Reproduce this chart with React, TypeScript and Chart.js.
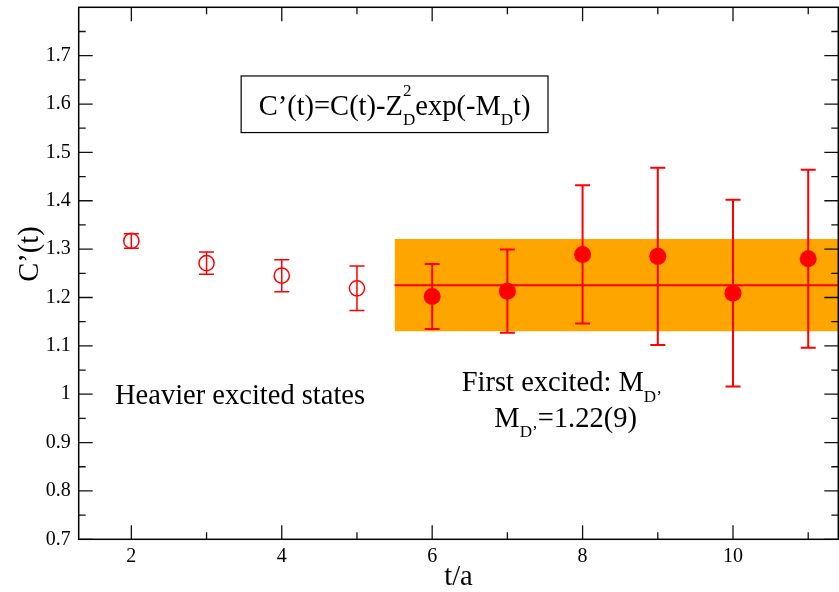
import React, { useEffect, useRef } from "react";
import { Chart, registerables } from "chart.js";

Chart.register(...registerables);

const CANVAS_W = 839;
const CANVAS_H = 592;
const SERIF = '"Liberation Serif", "Times New Roman", "DejaVu Serif", serif';
const RED = "#ff0000";
const ORANGE = "#ffa500";

// ---- data ----
const tOpen = [2, 3, 4, 5];
const cOpen = [1.317, 1.271, 1.245, 1.219];
const errOpen = [0.015, 0.023, 0.033, 0.046];

const tFilled = [6, 7, 8, 9, 10, 11];
const cFilled = [1.202, 1.213, 1.289, 1.285, 1.209, 1.28];
const errFilled = [0.067, 0.086, 0.143, 0.183, 0.193, 0.184];

const fitValue = 1.2255;
const fitError = 0.0955;
const fitFrom = 5.5;
const fitTo = 11.4;

// ---- axes ----
const xMin = 1.3;
const xMax = 11.4;
const yMin = 0.7;
const yMax = 1.8;
const xMajorTicks = [2, 4, 6, 8, 10];
const xMinorTicks = [3, 5, 7, 9, 11];
const yMajorTicks = [0.7, 0.8, 0.9, 1.0, 1.1, 1.2, 1.3, 1.4, 1.5, 1.6, 1.7];
const yMinorTicks = [0.75, 0.85, 0.95, 1.05, 1.15, 1.25, 1.35, 1.45, 1.55, 1.65, 1.75];
const xTitle = "t/a";
const yTitle = "C\u2019(t)";

// ---- annotations (data units) ----
type Seg = { t?: string; sub?: string; sup?: string };
const formulaSegments: Seg[] = [
  { t: "C\u2019(t)=C(t)-Z", sub: "D", sup: "2" },
  { t: "exp(-M", sub: "D" },
  { t: "t)" },
];
const formulaBox = { x0: 3.46, x1: 7.54, yTop: 1.658, yBottom: 1.541, yBase: 1.578 };
const heavierSegments: Seg[] = [{ t: "Heavier excited states" }];
const heavierPos = { x: 1.783, y: 0.979 };
const firstSegments: Seg[] = [{ t: "First excited: M", sub: "D\u2019" }];
const firstPos = { x: 6.393, y: 1.007 };
const massSegments: Seg[] = [{ t: "M", sub: "D\u2019" }, { t: "=1.22(9)" }];
const massPos = { x: 6.827, y: 0.933 };
const yTitleCenterValue = 1.29;

const TICK_FONT = 20;
const TEXT_FONT = 28.5;

function richWidth(ctx: CanvasRenderingContext2D, segs: Seg[], size: number) {
  const small = size * 0.6;
  let w = 0;
  for (const s of segs) {
    if (s.t) {
      ctx.font = `${size}px ${SERIF}`;
      w += ctx.measureText(s.t).width;
    }
    let sw = 0;
    ctx.font = `${small}px ${SERIF}`;
    if (s.sub) sw = Math.max(sw, ctx.measureText(s.sub).width);
    if (s.sup) sw = Math.max(sw, ctx.measureText(s.sup).width);
    w += sw;
  }
  return w;
}

function drawRich(ctx: CanvasRenderingContext2D, segs: Seg[], x: number, y: number, size: number) {
  const small = size * 0.6;
  let cx = x;
  ctx.textAlign = "left";
  ctx.textBaseline = "alphabetic";
  for (const s of segs) {
    if (s.t) {
      ctx.font = `${size}px ${SERIF}`;
      ctx.fillText(s.t, cx, y);
      cx += ctx.measureText(s.t).width;
    }
    let sw = 0;
    ctx.font = `${small}px ${SERIF}`;
    if (s.sub) {
      ctx.fillText(s.sub, cx, y + size * 0.38);
      sw = Math.max(sw, ctx.measureText(s.sub).width);
    }
    if (s.sup) {
      ctx.fillText(s.sup, cx, y - size * 0.66);
      sw = Math.max(sw, ctx.measureText(s.sup).width);
    }
    cx += sw;
  }
}

const errorBarPlugin = {
  id: "errorBars",
  beforeDatasetDraw(chart: any, args: any) {
    const ds = chart.data.datasets[args.index];
    if (!ds.errors) return;
    const { ctx, scales } = chart;
    const x = scales.x;
    const y = scales.y;
    ctx.save();
    ctx.strokeStyle = RED;
    ctx.lineWidth = ds.errorWidth;
    ds.data.forEach((p: any, i: number) => {
      const px = x.getPixelForValue(p.x);
      const pHi = y.getPixelForValue(p.y + ds.errors[i]);
      const pLo = y.getPixelForValue(p.y - ds.errors[i]);
      const cap = 7.5;
      ctx.beginPath();
      ctx.moveTo(px, pHi);
      ctx.lineTo(px, pLo);
      ctx.moveTo(px - cap, pHi);
      ctx.lineTo(px + cap, pHi);
      ctx.moveTo(px - cap, pLo);
      ctx.lineTo(px + cap, pLo);
      ctx.stroke();
    });
    ctx.restore();
  },
};

const framePlugin = {
  id: "frameAndText",
  afterDatasetsDraw(chart: any) {
    const { ctx, chartArea: a, scales } = chart;
    const x = scales.x;
    const y = scales.y;
    ctx.save();
    // ticks on all four sides, pointing inwards
    ctx.strokeStyle = "#111";
    ctx.lineWidth = 1.3;
    ctx.beginPath();
    const xt = (v: number, len: number) => {
      const px = x.getPixelForValue(v);
      ctx.moveTo(px, a.bottom);
      ctx.lineTo(px, a.bottom - len);
      ctx.moveTo(px, a.top);
      ctx.lineTo(px, a.top + len);
    };
    const yt = (v: number, len: number) => {
      const py = y.getPixelForValue(v);
      ctx.moveTo(a.left, py);
      ctx.lineTo(a.left + len, py);
      ctx.moveTo(a.right, py);
      ctx.lineTo(a.right - len, py);
    };
    xMajorTicks.forEach((v) => xt(v, 14));
    xMinorTicks.forEach((v) => xt(v, 7));
    yMajorTicks.forEach((v) => yt(v, 14));
    yMinorTicks.forEach((v) => yt(v, 7));
    ctx.stroke();
    // frame
    ctx.strokeStyle = "#000";
    ctx.lineWidth = 1.5;
    ctx.strokeRect(a.left, a.top, a.right - a.left, a.bottom - a.top);
    ctx.restore();
  },
  afterDraw(chart: any) {
    const { ctx, chartArea: a, scales } = chart;
    const x = scales.x;
    const y = scales.y;
    ctx.save();
    ctx.fillStyle = "#000";
    // y axis title (rotated)
    ctx.save();
    ctx.translate(a.left - 47.7, y.getPixelForValue(yTitleCenterValue));
    ctx.rotate(-Math.PI / 2);
    ctx.font = `${TEXT_FONT}px ${SERIF}`;
    ctx.textAlign = "center";
    ctx.textBaseline = "middle";
    ctx.fillText(yTitle, 0, 0);
    ctx.restore();

    // formula box
    const bx0 = x.getPixelForValue(formulaBox.x0);
    const bx1 = x.getPixelForValue(formulaBox.x1);
    const by0 = y.getPixelForValue(formulaBox.yTop);
    const by1 = y.getPixelForValue(formulaBox.yBottom);
    ctx.fillStyle = "#fff";
    ctx.fillRect(bx0, by0, bx1 - bx0, by1 - by0);
    ctx.strokeStyle = "#000";
    ctx.lineWidth = 1.2;
    ctx.strokeRect(bx0, by0, bx1 - bx0, by1 - by0);
    ctx.fillStyle = "#000";
    const fw = richWidth(ctx, formulaSegments, TEXT_FONT);
    drawRich(ctx, formulaSegments, (bx0 + bx1) / 2 - fw / 2, y.getPixelForValue(formulaBox.yBase), TEXT_FONT);

    // labels
    drawRich(ctx, heavierSegments, x.getPixelForValue(heavierPos.x), y.getPixelForValue(heavierPos.y), TEXT_FONT);
    drawRich(ctx, firstSegments, x.getPixelForValue(firstPos.x), y.getPixelForValue(firstPos.y), TEXT_FONT);
    drawRich(ctx, massSegments, x.getPixelForValue(massPos.x), y.getPixelForValue(massPos.y), TEXT_FONT);
    ctx.restore();
  },
};

export default function App() {
  const ref = useRef<HTMLCanvasElement | null>(null);

  useEffect(() => {
    const canvas = ref.current;
    if (!canvas) return;
    const chart = new Chart(canvas, {
      type: "scatter",
      data: {
        datasets: [
          {
            label: "band",
            data: [
              { x: fitFrom, y: fitValue + fitError },
              { x: fitTo, y: fitValue + fitError },
            ],
            showLine: true,
            borderWidth: 0,
            borderColor: "rgba(0,0,0,0)",
            backgroundColor: ORANGE,
            fill: { value: fitValue - fitError },
            pointRadius: 0,
            order: 3,
          } as any,
          {
            label: "fit",
            data: [
              { x: fitFrom, y: fitValue },
              { x: fitTo, y: fitValue },
            ],
            showLine: true,
            borderWidth: 2,
            borderColor: RED,
            pointRadius: 0,
            fill: false,
            order: 2,
          } as any,
          {
            label: "heavier",
            data: tOpen.map((t, i) => ({ x: t, y: cOpen[i] })),
            errors: errOpen,
            errorWidth: 1.5,
            pointStyle: "circle",
            pointRadius: 7.6,
            pointBorderWidth: 1.5,
            pointBorderColor: RED,
            pointBackgroundColor: "rgba(0,0,0,0)",
            order: 1,
          } as any,
          {
            label: "first",
            data: tFilled.map((t, i) => ({ x: t, y: cFilled[i] })),
            errors: errFilled,
            errorWidth: 2,
            pointStyle: "circle",
            pointRadius: 8.5,
            pointBorderWidth: 0,
            pointBorderColor: RED,
            pointBackgroundColor: RED,
            order: 0,
          } as any,
        ],
      },
      options: {
        animation: false,
        responsive: false,
        devicePixelRatio: 1,
        events: [],
        layout: { autoPadding: false, padding: { left: 0, right: 0.7, top: 7.3, bottom: 0 } },
        plugins: {
          legend: { display: false },
          tooltip: { enabled: false },
          title: { display: false },
        },
        scales: {
          x: {
            type: "linear",
            min: xMin,
            max: xMax,
            grid: { display: false, drawTicks: false },
            border: { display: false },
            afterBuildTicks: (s: any) => {
              s.ticks = xMajorTicks.map((v) => ({ value: v }));
            },
            afterFit: (s: any) => {
              s.height = 52.7;
              s.paddingLeft = 0;
              s.paddingRight = 0;
            },
            ticks: {
              autoSkip: false,
              maxRotation: 0,
              padding: 5,
              color: "#000",
              font: { family: SERIF, size: TICK_FONT },
              callback: (v: any) => String(v),
            },
            title: {
              display: true,
              text: xTitle,
              color: "#000",
              padding: 0,
              font: { family: SERIF, size: TEXT_FONT, lineHeight: 1 },
            },
          },
          y: {
            type: "linear",
            min: yMin,
            max: yMax,
            grid: { display: false, drawTicks: false },
            border: { display: false },
            afterBuildTicks: (s: any) => {
              s.ticks = yMajorTicks.map((v) => ({ value: v }));
            },
            afterFit: (s: any) => {
              s.width = 78.7;
              s.paddingTop = 0;
              s.paddingBottom = 0;
            },
            ticks: {
              autoSkip: false,
              padding: 8,
              color: "#000",
              font: { family: SERIF, size: TICK_FONT },
              callback: (v: any) => String(Math.round(Number(v) * 10) / 10),
            },
            title: { display: false },
          },
        },
      } as any,
      plugins: [errorBarPlugin, framePlugin],
    });
    return () => chart.destroy();
  }, []);

  return (
    <div
      style={{
        position: "fixed",
        left: 0,
        top: 0,
        width: CANVAS_W,
        height: CANVAS_H,
        background: "#fff",
      }}
    >
      <canvas
        ref={ref}
        width={CANVAS_W}
        height={CANVAS_H}
        style={{ display: "block", width: CANVAS_W, height: CANVAS_H }}
      />
    </div>
  );
}
